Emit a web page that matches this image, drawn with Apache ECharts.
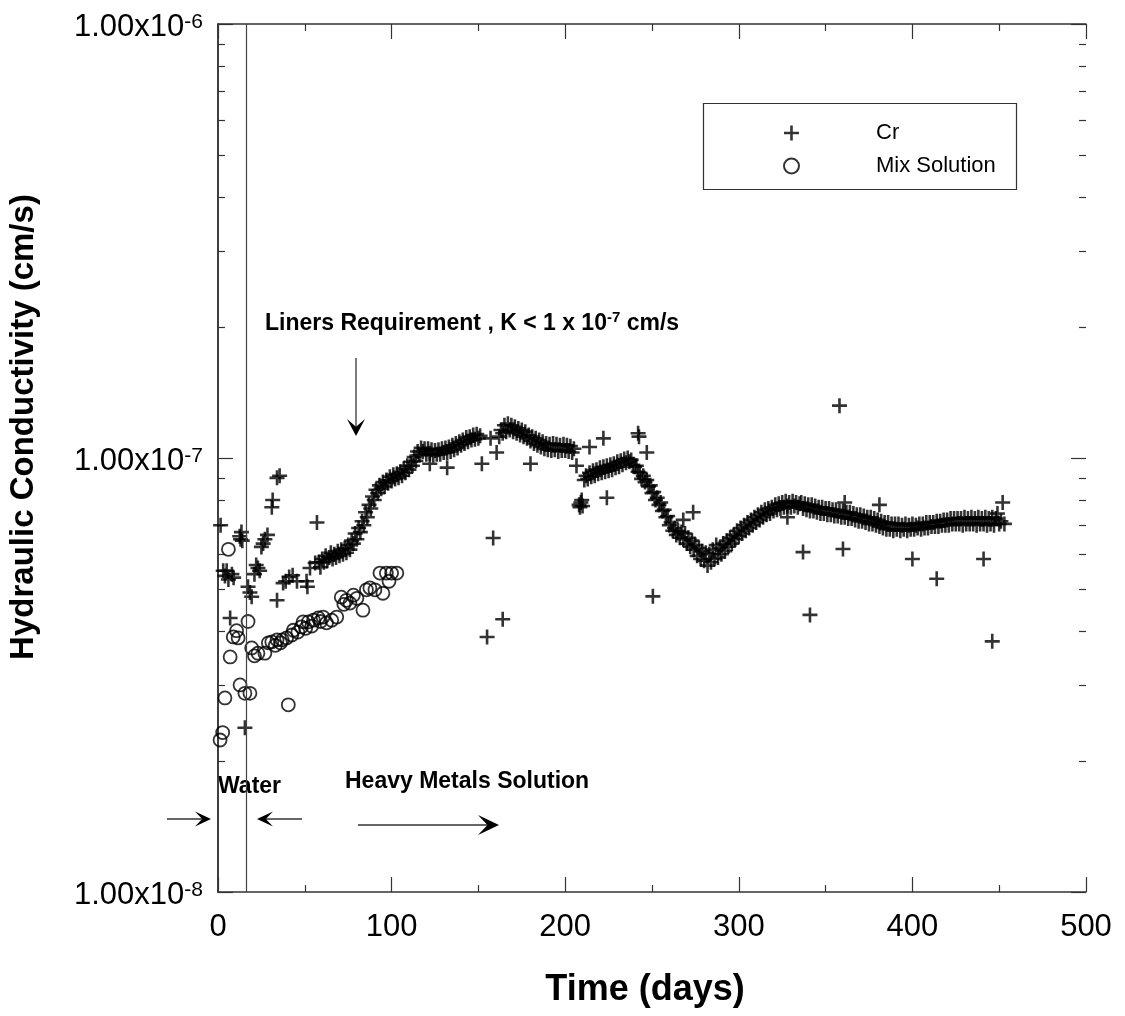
<!DOCTYPE html>
<html><head><meta charset="utf-8">
<script src="https://cdn.jsdelivr.net/npm/echarts@6/dist/echarts.min.js"></script>
<style>html,body{margin:0;padding:0;background:#fff}#c{width:1125px;height:1016px}</style>
</head><body><div id="c"></div>
<script>
// Values: [day, hydraulic conductivity in units of 1e-8 cm/s]
const UNIT = 1e-8;
const crEarly = [[1.5,7.0],[3,5.5],[4,5.35],[5,5.5],[6,5.25],[7,4.28],[8,5.4],[9,5.3],[12.5,6.6],[13,6.5],[13.5,6.75],[14,6.45],[15.5,2.39],[17.3,5.05],[18.4,4.9],[19.4,4.79],[21,5.4],[22,5.67],[23,5.58],[24,5.5],[25,6.24],[26,6.35],[27,6.5],[28.5,6.65],[31,7.7],[31.5,8.0],[34,9.0],[35.5,9.1],[34,4.7],[37.5,5.15],[39,5.2],[41,5.32],[43,5.37],[45.5,5.2],[51,5.2],[51.5,5.05],[53,5.58],[56,5.73],[57,7.1]];
const crRise = [[58,5.75],[59,5.6],[60,5.85],[61,5.75],[62,5.95],[63,5.8],[64,5.9],[65,6.05],[66,5.85],[67,6.0],[68,5.9],[69,6.1],[70,5.95],[71,6.15],[72,6.0],[73,6.2],[74,6.05],[75,6.3],[76,6.15],[77,6.45],[78,6.35],[79,6.7],[80,6.5],[81,6.9],[82,6.75],[83,7.15],[84,7.0],[85,7.5],[86,7.3],[87,7.8],[88,7.65],[89,8.15],[90,8.0],[91,8.45],[92,8.3],[93,8.65],[94,8.5],[95,8.8],[96,8.6],[97,8.9],[98,8.75],[99,9.05],[100,8.85],[101,9.15],[102,8.95],[103,9.2],[104,9.0],[105,9.3],[106,9.1],[107,9.45],[108,9.25],[109,9.6],[110,9.4],[111,9.8],[112,9.6],[113,10.05],[114,9.85],[115,10.35],[116,10.15],[117,10.55],[118,10.35],[119,10.5],[120,10.2],[121,10.5],[122,10.25],[123,10.45],[124,10.15],[125,10.4],[126,10.2],[127,10.45],[128,10.2],[129,10.5],[130,10.3],[131,10.55],[132,10.3],[133,10.6],[134,10.35],[135,10.7],[136,10.45],[137,10.8],[138,10.55],[139,10.9],[140,10.7],[141,11.0],[142,10.8],[143,11.15],[144,10.9],[145,11.2],[146,11.0],[147,11.3],[148,11.05],[149,11.35],[150,11.1],[151,11.25]];
const crPeak = [[162,11.2],[163,11.6],[164,11.4],[165,11.9],[166,11.5],[167,12.0],[168,11.6],[169,11.9],[170,11.5],[171,11.8],[172,11.4],[173,11.7],[174,11.3],[175,11.6],[176,11.2],[177,11.5],[178,11.1],[179,11.3],[180,10.95],[181,11.2],[182,10.8],[183,11.1],[184,10.7],[185,11.0],[186,10.6],[187,10.9],[188,10.5],[189,10.8],[190,10.45],[191,10.75],[192,10.4],[193,10.8],[194,10.45],[195,10.75],[196,10.35],[197,10.7],[198,10.4],[199,10.75],[200,10.4],[201,10.7],[202,10.35],[203,10.65],[204,10.3],[205,10.5]];
const crHump = [[208,7.8],[208.5,7.7],[209,7.9],[209.5,8.0],[210,7.75],[211,8.9],[212,9.1],[213,8.95],[214,9.25],[215,9.05],[216,9.35],[217,9.1],[218,9.4],[219,9.2],[220,9.5],[221,9.25],[222,9.55],[223,9.3],[224,9.6],[225,9.35],[226,9.65],[227,9.4],[228,9.7],[229,9.5],[230,9.8],[231,9.55],[232,9.85],[233,9.65],[234,9.95],[235,9.75],[236,10.0],[237,9.8],[238,9.9],[239,9.65],[240,9.55]];
const crFall = [[241,9.6],[242,9.3],[243,9.25],[244,8.95],[245,9.1],[246,8.8],[247,8.9],[248,8.6],[249,8.65],[250,8.3],[251,8.35],[252,8.0],[253,8.1],[254,7.8],[255,7.9],[256,7.55],[257,7.6],[258,7.3],[259,7.35],[260,7.0],[261,7.1],[262,6.8],[263,6.9],[264,6.65],[265,6.8],[266,6.55],[267,6.75],[268,6.5],[269,6.7],[270,6.35],[271,6.55],[272,6.25],[273,6.45],[274,6.15],[275,6.3],[276,5.95],[277,6.2],[278,5.85],[279,6.1],[280,5.8],[281,6.05],[282,5.65],[283,6.0],[284,5.75],[285,6.15],[286,5.85],[287,6.3],[288,5.9],[289,6.2],[290,6.0],[291,6.35],[292,6.1],[293,6.45],[294,6.25],[295,6.55],[296,6.35],[297,6.65],[298,6.5],[299,6.8],[300,6.6],[301,6.9],[302,6.7],[303,7.0],[304,6.8],[305,7.1],[306,6.9],[307,7.2],[308,7.0],[309,7.3],[310,7.1],[311,7.4],[312,7.2],[313,7.5],[314,7.3],[315,7.6],[316,7.4],[317,7.65],[318,7.45],[319,7.7],[320,7.55],[321,7.8],[322,7.6],[323,7.85],[324,7.65],[325,7.9],[326,7.7],[327,7.95],[328,7.75],[329,7.9],[330,7.7],[331,7.95],[332,7.75],[333,7.9],[334,7.7],[335,7.85]];
const crPlateau = [[336,7.9],[337,7.65],[338,7.85],[339,7.6],[340,7.8],[341,7.55],[342,7.8],[343,7.55],[344,7.75],[345,7.5],[346,7.7],[347,7.45],[348,7.7],[349,7.45],[350,7.65],[351,7.4],[352,7.65],[353,7.4],[354,7.6],[355,7.35],[356,7.6],[357,7.35],[358,7.55],[359,7.3],[360,7.55],[361,7.3],[362,7.5],[363,7.25],[364,7.5],[365,7.25],[366,7.45],[367,7.2],[368,7.4],[369,7.15],[370,7.4],[371,7.15],[372,7.35],[373,7.1],[374,7.3],[375,7.05],[376,7.3],[377,7.05],[378,7.25],[379,7.0],[380,7.2],[381,6.95],[382,7.15],[383,6.9],[384,7.1],[385,6.85],[386,7.1],[387,6.85],[388,7.05],[389,6.8],[390,7.05],[391,6.85],[392,7.05],[393,6.8],[394,7.0],[395,6.85],[396,7.05],[397,6.8],[398,7.0],[399,6.85],[400,7.05],[401,6.85],[402,7.0],[403,6.9],[404,7.05],[405,6.85],[406,7.05],[407,6.9],[408,7.1],[409,6.9],[410,7.1],[411,6.95],[412,7.1],[413,6.95],[414,7.15],[415,6.95],[416,7.15],[417,7.0],[418,7.2],[419,7.0],[420,7.2],[421,7.0],[422,7.25],[423,7.05],[424,7.25],[425,7.05],[426,7.25],[427,7.05],[428,7.25],[429,7.0],[430,7.3],[431,7.05],[432,7.25],[433,7.05],[434,7.3],[435,7.05],[436,7.25],[437,7.0],[438,7.3],[439,7.05],[440,7.25],[441,7.05],[442,7.3],[443,7.0],[444,7.25],[445,7.05],[446,7.3],[447,7.0],[448,7.25],[449,7.45],[450,7.05],[451,7.15],[452,7.9],[453,7.05]];
const crOutliers = [[122,9.7],[132,9.5],[152,9.7],[155,3.87],[157,11.1],[158.5,6.54],[160.5,10.3],[164,4.25],[180,9.7],[206.5,9.6],[214,10.6],[222,11.1],[224,8.1],[242,11.4],[242.5,11.2],[247,10.3],[250.5,4.8],[268,7.2],[273.7,7.5],[328,7.3],[337,6.07],[341,4.35],[358,13.2],[360,6.17],[361,7.9],[381,7.8],[400,5.85],[414,5.27],[441,5.85],[446,3.78]];
const mixData = [[1.2,2.24],[2.7,2.33],[4,2.80],[6,6.16],[7,3.48],[8.8,3.87],[10.7,4.0],[11.6,3.85],[12.7,3.0],[15.5,2.87],[17.3,4.2],[18.4,2.87],[19.4,3.65],[21,3.5],[23,3.55],[27,3.55],[29,3.75],[31,3.77],[33,3.7],[34,3.81],[36,3.75],[37,3.81],[39.5,3.85],[40.5,2.70],[42.5,3.91],[43.4,4.01],[46,3.97],[48,4.08],[49,4.19],[50.5,4.05],[52,4.19],[54,4.1],[55,4.23],[57.8,4.28],[59,4.2],[60.5,4.3],[62.5,4.17],[65.5,4.23],[68.4,4.3],[71,4.78],[72.5,4.6],[74,4.7],[76,4.63],[78,4.83],[80,4.75],[83.5,4.46],[85.5,4.97],[87.5,5.02],[90.4,4.97],[93.3,5.43],[95,4.88],[97,5.43],[98.5,5.2],[100,5.43],[103,5.43]];
const xTicks = [0, 100, 200, 300, 400, 500];
const yRange = [1e-8, 1e-6];
const yMajor = [1e-8, 1e-7, 1e-6];
const waterEndDay = 16;
const linerLimit = 1e-7;

const FONT = 'Liberation Sans';
const toPts = arr => arr.map(p => [p[0], p[1] * UNIT]);
const crData = toPts([].concat(crEarly, crRise, crPeak, crHump, crFall, crPlateau, crOutliers));
const mixPts = toPts(mixData);
const PLUS = 'path://M6.2,0H8.8V6.2H15V8.8H8.8V15H6.2V8.8H0V6.2H6.2Z';
const AX = '#333';

const chart = echarts.init(document.getElementById('c'));
const xAxisBase = {
  type: 'value', min: xTicks[0], max: xTicks[xTicks.length - 1], interval: 100,
  axisLine: { show: true, lineStyle: { color: AX, width: 1.5 } },
  axisTick: { show: true, inside: true, length: 15, lineStyle: { color: AX, width: 1.2 } },
  minorTick: { show: true, splitNumber: 2, length: 7, lineStyle: { color: AX, width: 1.2 } },
  splitLine: { show: false }
};
const yAxisBase = {
  type: 'log', logBase: 10, min: yRange[0], max: yRange[1],
  axisLine: { show: true, lineStyle: { color: AX, width: 1.5 } },
  axisTick: { show: false },
  splitLine: { show: false }
};
chart.setOption({
  animation: false,
  backgroundColor: '#fff',
  grid: { left: 218, top: 24, right: 39, bottom: 124 },
  xAxis: [
    Object.assign({}, xAxisBase, { position: 'bottom',
      axisLabel: { show: true, fontSize: 31, fontFamily: FONT, color: '#000', margin: 20 } }),
    Object.assign({}, xAxisBase, { position: 'top', axisLabel: { show: false } })
  ],
  yAxis: [
    Object.assign({}, yAxisBase, { position: 'left',
      axisLabel: { show: true, fontSize: 31, fontFamily: FONT, color: '#000', margin: 15, lineHeight: 32,
        padding: [7, 0, 0, 0],
        formatter: v => '1.00x10{sup|' + Math.round(Math.log10(v)) + '}',
        rich: { sup: { fontSize: 21, fontFamily: FONT, color: '#000', lineHeight: 21, verticalAlign: 'top' } } } }),
    Object.assign({}, yAxisBase, { position: 'right', axisLabel: { show: false } })
  ],
  legend: {
    orient: 'vertical', left: 778, top: 117, itemWidth: 15, itemHeight: 15, itemGap: 11,
    selectedMode: false,
    data: ['Cr', 'Mix Solution'],
    textStyle: { fontSize: 22, fontFamily: FONT, color: '#000', lineHeight: 22, padding: [0, 0, 0, 72] }
  },
  series: [
    {
      name: 'Cr', type: 'scatter', data: crData, symbol: PLUS, symbolSize: 15,
      itemStyle: { color: '#000' }, xAxisIndex: 0, yAxisIndex: 0,
      markLine: {
        silent: true, symbol: 'none', label: { show: false },
        lineStyle: { color: '#444', width: 1.2, type: 'solid' },
        emphasis: { disabled: true },
        data: [{ xAxis: waterEndDay }, { yAxis: linerLimit }]
      }
    },
    {
      name: 'Mix Solution', type: 'scatter', data: mixPts, symbol: 'circle', symbolSize: 13,
      itemStyle: { color: 'rgba(0,0,0,0)', borderColor: '#000', borderWidth: 1.8 },
      xAxisIndex: 0, yAxisIndex: 0
    }
  ]
});

// Graphics: log ticks (inside), legend frame, titles and annotations
const g = [];
const xL = chart.convertToPixel({ xAxisIndex: 0 }, 0);
const xR = chart.convertToPixel({ xAxisIndex: 0 }, 500);
function yTick(v, len) {
  const py = Math.round(chart.convertToPixel({ yAxisIndex: 0 }, v)) + 0.5;
  g.push({ type: 'line', shape: { x1: xL, y1: py, x2: xL + len, y2: py }, style: { stroke: AX, lineWidth: 1.2 }, silent: true });
  g.push({ type: 'line', shape: { x1: xR - len, y1: py, x2: xR, y2: py }, style: { stroke: AX, lineWidth: 1.2 }, silent: true });
}
yMajor.forEach(v => yTick(v, 15));
for (let e = -8; e < -6; e++) {
  for (let m = 2; m <= 9; m++) yTick(m * Math.pow(10, e), 7);
}
g.push({ type: 'rect', shape: { x: 703.5, y: 103.5, width: 313, height: 86 }, style: { fill: 'none', stroke: '#333', lineWidth: 1.2 }, silent: true });

function arrow(x1, y1, x2, y2, L, W) {
  const dx = x2 - x1, dy = y2 - y1, len = Math.hypot(dx, dy);
  const ux = dx / len, uy = dy / len, px = -uy, py = ux;
  const bx = x2 - ux * L, by = y2 - uy * L;
  const nx = x2 - ux * L * 0.55, ny = y2 - uy * L * 0.55;
  g.push({ type: 'line', shape: { x1: x1, y1: y1, x2: nx, y2: ny }, style: { stroke: '#333', lineWidth: 1.3 }, silent: true });
  g.push({ type: 'polygon', shape: { points: [[x2, y2], [bx + px * W, by + py * W], [nx, ny], [bx - px * W, by - py * W]] }, style: { fill: '#000' }, silent: true });
}
arrow(167, 819, 211, 819, 16, 7.5);
arrow(302, 819, 257, 819, 16, 7.5);
arrow(358, 825, 499, 825, 21, 10);
arrow(356, 358, 356, 436, 17, 9);

const bold = { fontFamily: FONT, fontWeight: 'bold', fill: '#000' };
g.push({ type: 'text', x: 265, y: 324, silent: true, style: Object.assign({
  text: 'Liners Requirement , K < 1 x 10{sup|-7} cm/s', fontSize: 23, lineHeight: 28,
  align: 'left', verticalAlign: 'middle',
  rich: { sup: { fontSize: 15, fontWeight: 'bold', fontFamily: FONT, lineHeight: 15, verticalAlign: 'top' } }
}, bold) });
g.push({ type: 'text', x: 218, y: 787, silent: true, style: Object.assign({ text: 'Water', fontSize: 23, align: 'left', verticalAlign: 'middle' }, bold) });
g.push({ type: 'text', x: 345, y: 782, silent: true, style: Object.assign({ text: 'Heavy Metals Solution', fontSize: 23, align: 'left', verticalAlign: 'middle' }, bold) });
g.push({ type: 'text', x: 645, y: 990, silent: true, style: Object.assign({ text: 'Time (days)', fontSize: 36, align: 'center', verticalAlign: 'middle' }, bold) });
g.push({ type: 'text', x: 24, y: 427, rotation: Math.PI / 2, silent: true, style: Object.assign({ text: 'Hydraulic Conductivity (cm/s)', fontSize: 33, align: 'center', verticalAlign: 'middle' }, bold) });

chart.setOption({ graphic: g });
</script>
</body></html>
